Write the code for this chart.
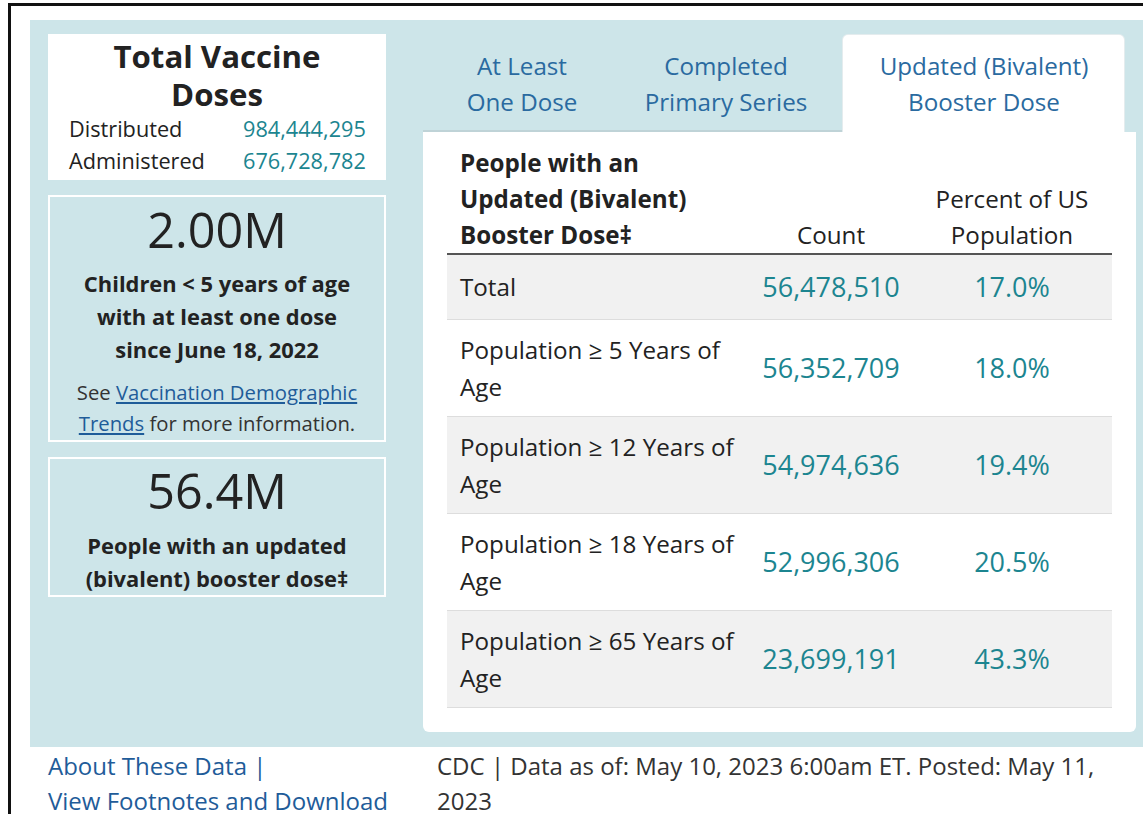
<!DOCTYPE html>
<html>
<head>
<meta charset="utf-8">
<script src="https://cdn.jsdelivr.net/npm/chart.js@4"></script>
<style>
  html,body{margin:0;padding:0;background:#fff;width:1143px;height:814px;overflow:hidden;font-family:"Open Sans",sans-serif;color:#222;}
  #frame{position:absolute;left:8px;top:3px;width:1200px;height:900px;border:3px solid #111;box-sizing:border-box;}
  #panel{position:absolute;left:30px;top:20px;width:1120px;height:727px;background:#cde5e9;}
  .box{position:absolute;left:48px;width:338px;box-sizing:border-box;text-align:center;}
  #totals{top:34px;height:146px;background:#fff;padding-top:3px;}
  #totals .title{font-weight:700;font-size:31.2px;line-height:38px;color:#222;}
  #totals table{position:absolute;left:21px;top:79px;border-collapse:collapse;font-size:21.7px;}
  #totals td{padding:0;height:32px;line-height:32px;}
  #totals td.lbl{text-align:left;width:174px;color:#222;}
  #totals td.val{text-align:left;color:#1c8590;}
  .kpi{border:2px solid #fff;background:#cde5e9;}
  .kpi .big{font-size:48.5px;line-height:56px;color:#222;}
  .kpi .desc{font-weight:700;font-size:21.9px;line-height:33px;color:#222;white-space:nowrap;}
  .kpi .note{font-size:20.3px;line-height:31px;color:#333;white-space:nowrap;}
  .kpi a{color:#1f5c99;text-decoration:underline;}
  #kpi1{top:195px;height:247px;padding-top:4px;}
  #kpi2{top:457px;height:140px;padding-top:3px;}
  .tab{position:absolute;top:48px;font-size:24.2px;line-height:36px;color:#2a6aa0;text-align:center;white-space:nowrap;}
  #activeTab{position:absolute;left:843px;top:35px;width:281px;height:100px;background:#fff;border-radius:5px 5px 0 0;box-shadow:0 0 0 1px #e4ecee;}
  #tabline{position:absolute;left:423px;top:130px;width:420px;height:2px;background:#bfd3d7;}
  #content{position:absolute;left:423px;top:132px;width:713px;height:600px;background:#fff;border-radius:0 0 6px 6px;}
  #tbl{position:absolute;left:447px;top:145px;width:665px;border-collapse:collapse;font-size:24.2px;}
  #tbl th{font-weight:400;vertical-align:bottom;line-height:36px;padding:0;white-space:nowrap;}
  #tbl th.c1{text-align:left;font-weight:700;padding-left:13px;width:290px;}
  #tbl th.c2{text-align:center;width:162px;}
  #tbl th.c3{text-align:center;}
  #tbl thead tr{border-bottom:2px solid #555;}
  #tbl td{padding:0;vertical-align:middle;line-height:37px;border-top:1px solid #ddd;}
  #tbl td.c1{padding-left:13px;text-align:left;color:#222;white-space:nowrap;}
  #tbl td.num{text-align:center;color:#1c8590;font-size:27px;}
  #tbl tbody tr:nth-child(odd){background:#f1f1f1;}
  #tbl tbody tr:last-child td{border-bottom:1px solid #ddd;}
  #footL{position:absolute;left:48px;top:748px;font-size:24px;line-height:35px;color:#1f5c99;white-space:nowrap;}
  #footR{position:absolute;left:437px;top:748px;width:690px;font-size:24px;line-height:35px;color:#333;}
</style>
</head>
<body>
<div id="frame"></div>
<div id="panel"></div>
<div id="tabline"></div>
<div id="activeTab"></div>
<div id="content"></div>

<div class="box" id="totals">
  <div class="title">Total Vaccine<br>Doses</div>
  <table id="totalsTable"></table>
</div>
<div class="box kpi" id="kpi1"></div>
<div class="box kpi" id="kpi2"></div>

<div id="tabs"></div>
<table id="tbl"><thead></thead><tbody></tbody></table>

<div id="footL"></div>
<div id="footR"></div>

<script>
// ---- Data ----
const totalLabels = ["Distributed", "Administered"];
const totalValues = [984444295, 676728782];

const kpiValues = ["2.00M", "56.4M"];
const kpiDescriptions = [
  ["Children < 5 years of age", "with at least one dose", "since June 18, 2022"],
  ["People with an updated", "(bivalent) booster dose‡"]
];

const tabLabels = [["At Least", "One Dose"], ["Completed", "Primary Series"], ["Updated (Bivalent)", "Booster Dose"]];
const tabCenters = [522, 726, 984];

const headerTitle = ["People with an", "Updated (Bivalent)", "Booster Dose‡"];
const columnHeaders = [["Count"], ["Percent of US", "Population"]];

const categories = [
  ["Total"],
  ["Population ≥ 5 Years of", "Age"],
  ["Population ≥ 12 Years of", "Age"],
  ["Population ≥ 18 Years of", "Age"],
  ["Population ≥ 65 Years of", "Age"]
];
const counts = [56478510, 56352709, 54974636, 52996306, 23699191];
const percents = [17.0, 18.0, 19.4, 20.5, 43.3];

const footerLinks = ["About These Data |", "View Footnotes and Download"];
const footerNote = "CDC | Data as of: May 10, 2023 6:00am ET. Posted: May 11, 2023";

// ---- Render ----
const fmt = n => n.toLocaleString("en-US");

document.getElementById("totalsTable").innerHTML = totalLabels.map((l, i) =>
  `<tr><td class="lbl">${l}</td><td class="val">${fmt(totalValues[i])}</td></tr>`).join("");

document.getElementById("kpi1").innerHTML =
  `<div class="big">${kpiValues[0]}</div>` +
  `<div class="desc" style="margin-top:10px">${kpiDescriptions[0].join("<br>")}</div>` +
  `<div class="note" style="margin-top:11px">See <a>Vaccination Demographic<br>Trends</a> for more information.</div>`;
document.getElementById("kpi2").innerHTML =
  `<div class="big">${kpiValues[1]}</div>` +
  `<div class="desc" style="margin-top:11px">${kpiDescriptions[1].join("<br>")}</div>`;

document.getElementById("tabs").innerHTML = tabLabels.map((t, i) =>
  `<div class="tab" style="left:${tabCenters[i] - 150}px;width:300px">${t.join("<br>")}</div>`).join("");

document.querySelector("#tbl thead").innerHTML =
  `<tr><th class="c1">${headerTitle.join("<br>")}</th>` +
  `<th class="c2">${columnHeaders[0].join("<br>")}</th>` +
  `<th class="c3">${columnHeaders[1].join("<br>")}</th></tr>`;

document.querySelector("#tbl tbody").innerHTML = categories.map((c, i) =>
  `<tr style="height:${c.length > 1 ? 97 : 65}px"><td class="c1">${c.join("<br>")}</td>` +
  `<td class="num">${fmt(counts[i])}</td><td class="num">${percents[i].toFixed(1)}%</td></tr>`).join("");

document.getElementById("footL").innerHTML = footerLinks.join("<br>");
document.getElementById("footR").textContent = footerNote;
</script>
</body>
</html>
